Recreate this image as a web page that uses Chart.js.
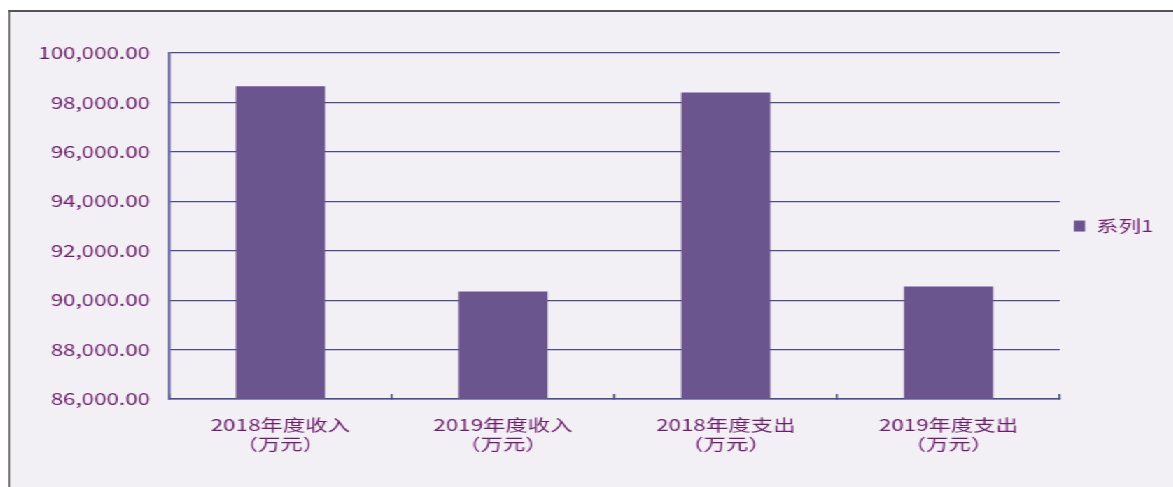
<!DOCTYPE html>
<html>
<head>
<meta charset="utf-8">
<script src="https://cdn.jsdelivr.net/npm/chart.js@4/dist/chart.umd.min.js"></script>
<style>
  html, body { margin: 0; padding: 0; background: #fff; overflow: hidden; }
  /* the reference is drawn horizontally stretched, so the whole chart is scaled on x */
  #stretch { position: absolute; left: 0; top: 0; width: 838px; height: 487px;
             transform: scaleX(1.4); transform-origin: 0 0; }
  #frame { position: absolute; left: 6px; top: 10px; right: -100px; bottom: -100px;
           border-left: 1.5px solid #555; border-top: 2px solid #555; background: #f2eff5; }
  #box { position: absolute; left: 0; top: 0; width: 838px; height: 487px; }
</style>
</head>
<body>
<div id="stretch">
  <div id="frame"></div>
  <div id="box"><canvas id="chart"></canvas></div>
</div>
<script>
const categories = [
  ["2018年度收入", "（万元）"],
  ["2019年度收入", "（万元）"],
  ["2018年度支出", "（万元）"],
  ["2019年度支出", "（万元）"]
];
const seriesName = "系列1";
const values = [98660, 90350, 98400, 90550];
const yMin = 86000;
const yMax = 100000;
const yStep = 2000;

const lineColor = "#4d4b8e";
const textColor = "#6b1f6b";
const font = { family: "'Noto Sans CJK SC', 'Noto Sans', sans-serif", size: 16 };

new Chart(document.getElementById("chart"), {
  type: "bar",
  data: {
    labels: categories,
    datasets: [{
      label: seriesName,
      data: values,
      backgroundColor: "#6b558f",
      borderWidth: 0,
      barPercentage: 0.4,
      categoryPercentage: 1.0
    }]
  },
  options: {
    responsive: true,
    maintainAspectRatio: false,
    animation: false,
    layout: { padding: { top: 53, right: 4, bottom: 12.5, left: 0 } },
    plugins: {
      tooltip: { enabled: false },
      legend: {
        position: "right",
        fullSize: false,
        labels: { boxWidth: 8, boxHeight: 11, color: textColor, font: font, padding: 10 }
      }
    },
    scales: {
      x: {
        grid: { offset: true, drawOnChartArea: false, tickLength: -5, color: lineColor, lineWidth: 1.4 },
        border: { color: lineColor, width: 1.6 },
        ticks: { color: textColor, font: { ...font, lineHeight: 1.2 }, padding: 21, maxRotation: 0, autoSkip: false }
      },
      y: {
        min: yMin,
        max: yMax,
        afterFit: s => { s.width = 120.7; },
        grid: { color: lineColor, lineWidth: 1.3, drawTicks: false },
        border: { color: lineColor, width: 1.6 },
        ticks: {
          stepSize: yStep,
          color: textColor,
          font: font,
          padding: 13.5,
          callback: v => v.toLocaleString("en-US", { minimumFractionDigits: 2, maximumFractionDigits: 2 })
        }
      }
    }
  }
});
</script>
</body>
</html>
